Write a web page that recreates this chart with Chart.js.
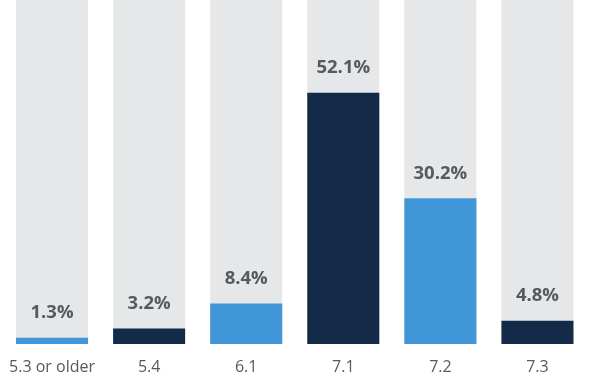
<!DOCTYPE html>
<html>
<head>
<meta charset="utf-8">
<script src="https://cdn.jsdelivr.net/npm/chart.js@4"></script>
<style>
  html, body { margin: 0; padding: 0; background: #fff; }
  #wrap { width: 600px; height: 387px; }
</style>
</head>
<body>
<div id="wrap"><canvas id="myChart"></canvas></div>
<script>
let versiones = ['5.3 or older', '5.4', '6.1', '7.1', '7.2', '7.3']
let porcentajes = [1.3, 3.2, 8.4, 52.1, 30.2, 4.8]
let colores = ['#4196d7', '#132b48', '#4196d7', '#132b48', '#4196d7', '#132b48']
let tope = 71.3
let fondo = versiones.map(() => tope)

// etiquetas de porcentaje encima de cada barra
const etiquetas = {
  id: 'etiquetas',
  afterDatasetsDraw(chart) {
    const ctx = chart.ctx
    const meta = chart.getDatasetMeta(0)
    ctx.save()
    ctx.font = 'bold 18.5px "Open Sans", sans-serif'
    ctx.fillStyle = '#58595b'
    ctx.textAlign = 'center'
    ctx.textBaseline = 'middle'
    meta.data.forEach((bar, i) => {
      ctx.fillText(porcentajes[i].toFixed(1) + '%', bar.x, bar.y - 25)
    })
    ctx.restore()
  }
}

const config = {
  type: 'bar',
  data: {
    labels: versiones,
    datasets: [
      {
        data: porcentajes,
        backgroundColor: colores,
        grouped: false,
        barPercentage: 0.742,
        categoryPercentage: 1.0
      },
      {
        data: fondo,
        backgroundColor: '#e6e7e9',
        grouped: false,
        barPercentage: 0.742,
        categoryPercentage: 1.0
      }
    ]
  },
  options: {
    responsive: true,
    maintainAspectRatio: false,
    animation: false,
    layout: { padding: { left: 3.5, right: 14, top: 0, bottom: 0 } },
    plugins: {
      legend: { display: false },
      tooltip: { enabled: false }
    },
    scales: {
      x: {
        grid: { display: false, drawTicks: false },
        border: { display: false },
        ticks: {
          color: '#58595b',
          padding: 14,
          font: { size: 16, family: '"Open Sans", sans-serif' }
        },
        afterFit: (scale) => {
          scale.height = 43
          scale.paddingLeft = 0
          scale.paddingRight = 0
        }
      },
      y: {
        display: false,
        min: 0,
        max: tope
      }
    }
  },
  plugins: [etiquetas]
}

window.onload = function () {
  new Chart(document.getElementById('myChart'), config)
}
</script>
</body>
</html>
